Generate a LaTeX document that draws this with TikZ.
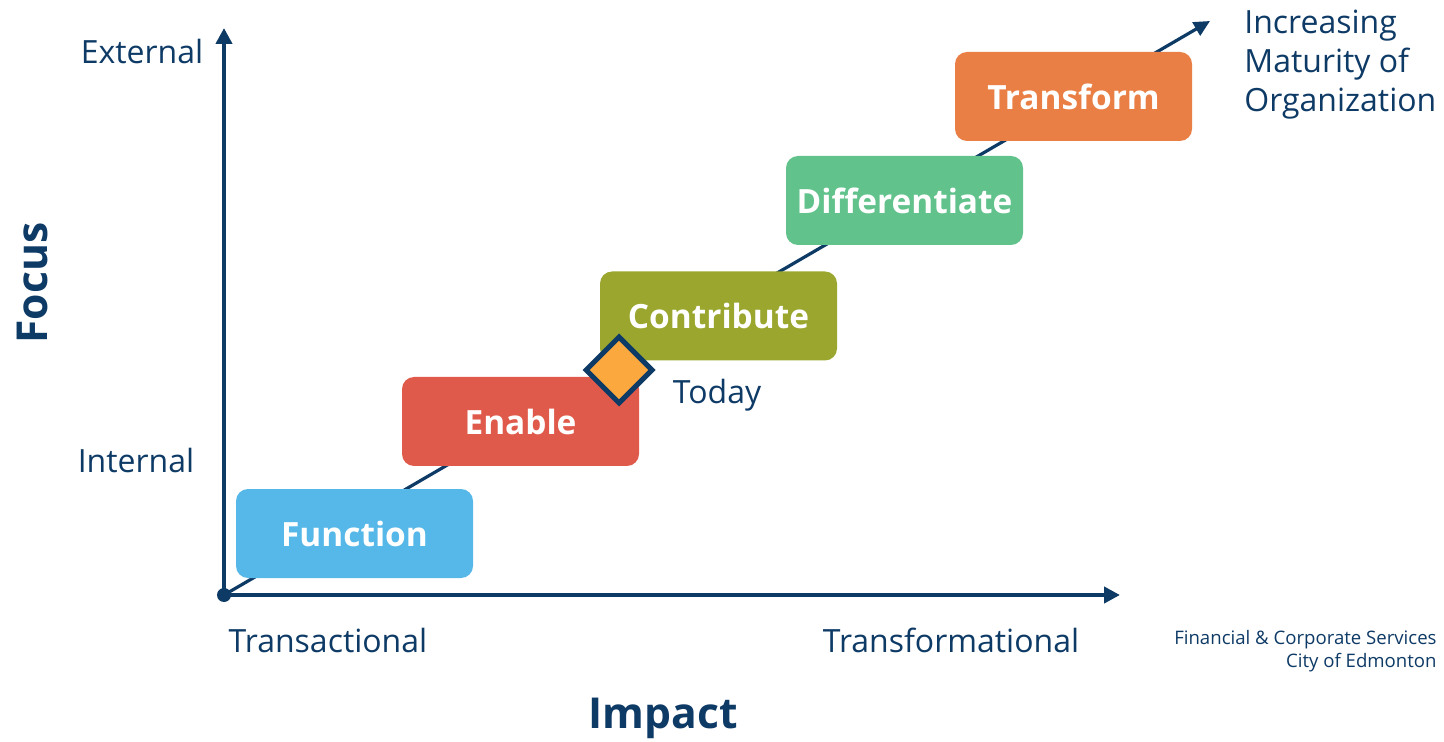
\documentclass[tikz,border=0pt]{standalone}
\usepackage{fontspec}
\setmainfont{Open Sans}
\usetikzlibrary{arrows.meta,shapes.geometric}

\definecolor{navy}{HTML}{0E3A66}
\definecolor{fnblue}{HTML}{55B8E8}
\definecolor{enred}{HTML}{E05A4B}
\definecolor{coolive}{HTML}{9AA62E}
\definecolor{digreen}{HTML}{62C28C}
\definecolor{trorange}{HTML}{EA7F45}
\definecolor{todayor}{HTML}{FBA83E}

\begin{document}
\begin{tikzpicture}[x=0.5pt,y=-0.5pt,
		stage/.style={rounded corners=6pt, minimum width=118.5pt, minimum height=44.5pt,
			inner sep=0pt, text=white, font=\fontsize{16.7}{20}\selectfont\bfseries},
		axislabel/.style={text=navy, font=\fontsize{16}{19.5}\selectfont},
		axistitle/.style={text=navy, font=\fontsize{21.3}{25}\selectfont\bfseries},
		axisline/.style={navy, line width=2pt, -{Triangle[length=8pt,width=8pt]}}]
		\useasboundingbox (0,0) rectangle (1444,742);
		% axes
		\node[circle, fill=navy, inner sep=0pt, minimum size=7pt] (origin) at (224,595) {};
		\coordinate (ytop) at (224,28);
		\coordinate (xend) at (1120,595);
		\coordinate (maturity) at (1210,21);
		\draw[axisline] (origin.center) -- (ytop);
		\draw[axisline] (origin.center) -- (xend);
		\draw[navy, line width=1.6pt, -{Triangle[length=8pt,width=7.5pt]}] (origin.center) -- (maturity);
		% stages
		\node[stage, fill=fnblue] (function) at (354.5,533.5) {Function};
		\node[stage, fill=enred] (enable) at (520.5,421.5) {Enable};
		\node[stage, fill=coolive] (contribute) at (718.5,316) {Contribute};
		\node[stage, fill=digreen] (differentiate) at (904.5,200.5) {Differentiate};
		\node[stage, fill=trorange] (transform) at (1073.5,96.5) {Transform};
		% today
		\node[diamond, draw=navy, fill=todayor, line width=2.5pt, inner sep=0pt,
			minimum width=34pt, minimum height=34pt] (today) at (619,370) {};
		\node[axislabel] (todaylabel) at (717,395) {Today};
		% labels
		\node[axislabel] (external) at (142,52) {External};
		\node[axislabel] (internal) at (136,461) {Internal};
		\node[axislabel] (transactional) at (328,640) {Transactional};
		\node[axislabel] (transformational) at (951,640) {Transformational};
		\node[axistitle] (impact) at (663,718) {Impact};
		\node[axistitle, rotate=90] (focus) at (33,283) {Focus};
		\node[axislabel, anchor=north west, align=left, inner sep=0pt] (increasing) at (1244,10) {Increasing\\Maturity of\\Organization};
		\node[text=navy, anchor=north east, align=right, inner sep=0pt,
			font=\fontsize{9.3}{11.5}\selectfont] (credit) at (1437,630) {Financial \& Corporate Services\\City of Edmonton};
\end{tikzpicture}
\end{document}
